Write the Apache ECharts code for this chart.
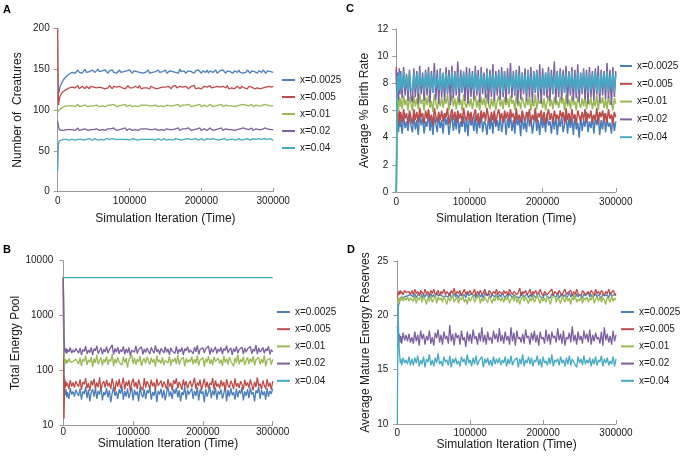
<!DOCTYPE html>
<html>
<head>
<meta charset="utf-8">
<script src="https://cdn.jsdelivr.net/npm/echarts@6/dist/echarts.min.js"></script>
<style>
html,body{margin:0;padding:0;background:#fff;}
#chart{width:688px;height:460px;}
</style>
</head>
<body>
<div id="chart"></div>
<script>
// ---------- shared data ----------
const seriesNames = ['x=0.0025','x=0.005','x=0.01','x=0.02','x=0.04'];
const xTicks = [0, 100000, 200000, 300000];
const iters = [0,1000,2000,3000,4000,5000,6000,8000,10000,12000,14000,16000,18000,20000,
22000,24000,26000,28000,30000,32000,34000,36000,38000,40000,42000,44000,46000,48000,50000,52000,54000,56000,58000,60000,
62000,64000,66000,68000,70000,72000,74000,76000,78000,80000,82000,84000,86000,88000,90000,92000,94000,96000,98000,100000,
102000,104000,106000,108000,110000,112000,114000,116000,118000,120000,122000,124000,126000,128000,130000,132000,134000,136000,138000,140000,
142000,144000,146000,148000,150000,152000,154000,156000,158000,160000,162000,164000,166000,168000,170000,172000,174000,176000,178000,180000,
182000,184000,186000,188000,190000,192000,194000,196000,198000,200000,202000,204000,206000,208000,210000,212000,214000,216000,218000,220000,
222000,224000,226000,228000,230000,232000,234000,236000,238000,240000,242000,244000,246000,248000,250000,252000,254000,256000,258000,260000,
262000,264000,266000,268000,270000,272000,274000,276000,278000,280000,282000,284000,286000,288000,290000,292000,294000,296000,298000,300000];

// ---------- Panel A: Number of Creatures ----------
const creatures_0025 = [115,119,123,127,130,132,134,137,139,141,143,144,145,146,
148,145,147,149,146,148,145,147,150,146,148,147,145,149,147,146,148,150,147,145,
148,146,149,147,145,148,147,149,146,148,145,147,149,146,148,147,145,148,146,149,
147,145,148,146,147,149,146,148,145,147,146,148,149,145,147,146,148,147,145,149,
146,148,147,146,149,145,147,148,146,147,149,146,148,145,150,147,146,148,145,147,
148,146,147,149,145,148,146,149,147,145,148,147,146,149,145,148,147,146,148,149,
145,147,148,146,149,147,145,148,146,147,149,145,148,147,146,149,146,148,145,147,
146,149,147,145,148,146,147,149,145,148,147,146,149,147,145,148,146,147,149,146];
const creatures_005 = [200,106,112,116,118,120,121,123,124,125,126,127,127,128,
129,127,128,130,126,128,129,127,126,129,128,126,129,127,128,130,127,126,128,129,
127,129,126,128,127,130,128,126,129,127,128,126,129,128,127,129,126,128,130,127,
128,127,126,129,128,127,130,126,128,127,129,127,128,126,129,128,127,129,126,128,
127,129,128,126,128,127,129,128,126,129,128,130,127,126,129,127,128,126,129,128,
126,128,129,127,130,126,128,127,129,126,128,129,127,128,126,130,127,129,128,126,
129,127,128,126,129,128,127,130,126,128,127,129,126,128,129,127,126,129,128,127,
128,126,129,127,128,130,126,128,127,129,126,128,127,129,128,126,129,127,128,129];
const creatures_01 = [97,99,100,101,102,102,103,104,104,105,105,105,105,105,
106,104,105,107,104,106,105,104,106,105,104,106,105,107,105,104,106,105,104,106,
105,107,104,105,106,104,106,105,107,105,104,106,105,104,106,105,107,104,105,106,
105,104,106,105,107,104,105,106,104,106,105,106,104,105,107,105,104,106,105,104,
106,105,107,104,105,106,104,105,106,105,104,106,105,107,104,105,106,104,106,105,
107,105,104,106,105,104,106,105,107,104,105,106,105,104,106,107,105,104,106,105,
104,106,105,107,104,105,106,104,105,106,105,107,104,106,105,104,106,105,107,105,
106,104,105,106,107,104,105,106,104,105,106,105,104,107,105,106,104,105,106,105];
const creatures_02 = [86,81,76,74,74,75,75,75,76,76,76,76,76,76,
77,75,76,78,75,77,76,75,77,76,75,77,76,78,76,75,77,76,75,77,
76,78,75,76,77,75,77,76,78,76,75,77,76,75,77,76,78,75,76,77,
76,75,77,76,78,75,76,77,75,77,76,77,75,76,78,76,75,77,76,75,
77,76,78,75,76,77,75,76,77,76,75,77,76,78,75,76,77,75,77,76,
78,76,75,77,76,75,77,76,78,75,76,77,76,75,77,78,76,75,77,76,
75,77,76,78,75,76,77,75,76,77,76,78,75,77,76,75,77,76,78,76,
77,75,76,77,78,75,76,77,75,76,77,76,75,78,76,77,75,76,77,76];
const creatures_04 = [25,58,62,63,64,63,64,64,63,64,64,63,64,64,
64,63,65,64,63,64,65,63,64,64,63,65,64,63,64,65,64,63,65,64,
64,63,64,65,63,64,64,65,63,64,65,64,63,64,65,64,63,64,65,63,
64,65,63,64,64,63,65,64,63,64,63,64,65,64,63,64,65,63,64,65,
64,63,64,65,64,63,64,64,65,63,64,65,63,64,65,63,64,64,63,65,
63,64,65,64,63,65,64,63,64,65,64,63,64,65,63,64,64,65,63,64,
65,63,64,64,63,65,64,63,65,64,63,64,65,63,64,65,64,63,64,64,
63,65,64,63,64,65,63,64,64,65,63,64,63,65,64,64,63,65,64,63];
const creaturesTicks = [0, 50, 100, 150, 200];

// ---------- Panel C: Average % Birth Rate ----------
const birth_0025 = [0,4.6,5.1,4.4,5.5,4.8,5.3,4.3,5.6,4.7,5.2,4.5,5.7,4.9,
4.4,5.7,4.6,5.3,4.2,5.8,4.9,5.5,4.3,5.2,4.8,5.9,4.5,5.4,4.2,5.6,5.0,4.4,5.7,4.7,
5.3,4.3,5.8,4.9,5.5,4.2,5.1,5.7,4.5,5.4,4.6,5.9,4.3,5.2,4.8,5.6,4.4,5.5,4.1,5.8,
4.9,5.3,4.5,5.7,4.3,5.4,4.7,5.9,4.4,5.2,5.0,4.2,5.6,4.6,5.5,4.3,5.8,4.8,5.3,4.5,
5.7,4.4,5.1,5.6,4.2,5.4,4.7,5.8,4.5,5.3,4.3,5.6,4.9,5.4,4.1,5.7,4.6,5.2,4.4,5.9,
4.8,5.5,4.3,5.1,5.7,4.5,5.3,4.2,5.6,4.7,5.4,4.4,5.8,4.9,5.2,4.3,5.5,4.6,5.7,4.2,
5.3,4.8,5.6,4.4,5.0,5.8,4.3,5.4,4.7,5.5,4.2,5.7,4.6,5.1,4.0,5.6,4.5,5.3,4.8,5.9,
4.4,5.2,4.7,5.6,4.3,5.5,4.9,5.7,4.2,5.3,4.6,5.8,4.4,5.4,4.8,5.1,4.3,5.6,4.5,5.2];
const birth_005 = [9.2,5.2,5.8,5.0,6.0,5.3,5.9,5.1,6.1,5.4,5.8,5.0,6.0,5.5,
5.0,6.1,5.3,5.9,5.1,6.2,5.5,5.8,5.0,6.0,5.4,6.1,5.2,5.7,4.9,6.2,5.6,5.1,5.9,5.3,
6.0,5.2,5.8,5.5,6.2,5.0,5.7,6.1,5.3,5.9,5.1,6.0,5.4,5.8,5.0,6.2,5.5,5.2,6.0,5.3,
5.9,5.1,5.7,6.1,5.2,5.8,5.0,6.0,5.4,5.9,5.2,6.2,5.5,5.1,5.9,5.3,6.0,5.0,5.7,6.1,
5.3,5.8,5.1,6.0,5.4,5.9,5.2,6.1,5.5,5.8,5.0,6.2,5.3,5.7,5.1,6.0,5.6,5.2,5.9,5.4,
6.1,5.0,5.7,5.3,6.2,5.1,5.8,5.5,6.0,5.2,5.9,5.0,5.6,6.1,5.3,5.8,5.1,6.0,5.4,5.7,
5.2,6.0,5.5,5.9,5.0,6.2,5.3,5.8,5.1,6.1,5.4,5.7,5.0,6.0,5.6,5.2,5.9,5.3,6.1,5.1,
5.8,5.4,6.0,5.1,5.7,5.3,6.2,5.0,5.9,5.5,6.0,5.2,5.8,5.1,6.1,5.4,5.7,5.0,5.9,5.5];
const birth_01 = [0,6.2,6.8,6.0,7.0,6.3,6.9,6.1,7.1,6.4,6.8,6.0,7.0,6.5,
6.0,7.1,6.3,6.9,6.1,7.2,6.5,6.8,6.0,7.0,6.4,7.1,6.2,6.7,5.9,7.2,6.6,6.1,6.9,6.3,
7.0,6.2,6.8,6.5,7.2,6.0,6.7,7.1,6.3,6.9,6.1,7.0,6.4,6.8,6.0,7.2,6.5,6.2,7.0,6.3,
6.9,6.1,6.7,7.1,6.2,6.8,6.0,7.0,6.4,6.9,6.2,7.2,6.5,6.1,6.9,6.3,7.0,6.0,6.7,7.1,
6.3,6.8,6.1,7.0,6.4,6.9,6.2,7.1,6.5,6.8,6.0,7.2,6.3,6.7,6.1,7.0,6.6,6.2,6.9,6.4,
7.1,6.0,6.7,6.3,7.2,6.1,6.8,6.5,7.0,6.2,6.9,6.0,6.6,7.1,6.3,6.8,6.1,7.0,6.4,6.7,
6.2,7.0,6.5,6.9,6.0,7.2,6.3,6.8,6.1,7.1,6.4,6.7,6.0,7.0,6.6,6.2,6.9,6.3,7.1,6.1,
6.8,6.4,7.0,6.1,6.7,6.3,7.2,6.0,6.9,6.5,7.0,6.2,6.8,6.1,7.1,6.4,6.7,6.0,6.9,6.5];
const birth_02 = [9.0,7.0,8.8,6.8,9.1,7.2,8.9,6.9,9.2,7.1,8.7,6.7,9.0,7.0,
6.6,9.1,7.0,8.9,6.5,9.3,7.2,8.8,6.7,9.0,7.1,9.2,6.6,8.9,7.3,9.5,6.8,9.0,6.5,9.1,
7.0,8.8,6.7,9.2,7.2,9.0,6.4,9.3,6.9,8.9,7.1,9.6,6.6,9.0,7.3,8.8,6.7,9.2,6.5,9.1,
7.0,8.9,6.8,9.3,7.1,9.0,6.6,9.2,7.2,8.8,6.9,9.1,6.5,9.0,7.0,9.4,6.7,8.9,7.1,9.0,
6.8,9.2,7.0,8.9,6.6,9.1,7.2,9.5,6.9,8.9,7.1,9.0,6.5,9.3,6.8,8.8,7.2,9.1,6.7,9.0,
7.0,9.2,6.6,8.9,7.3,9.0,6.8,9.4,6.5,9.1,7.1,8.8,6.9,9.2,6.7,9.0,7.2,9.6,6.6,8.9,
7.0,9.1,6.8,9.0,7.3,9.3,6.5,8.9,7.1,9.2,6.7,9.0,6.9,9.4,6.6,8.8,7.2,9.1,6.8,9.0,
6.5,9.2,7.0,8.9,6.7,9.1,7.2,9.3,6.6,9.0,7.1,8.9,6.8,9.5,6.9,9.0,6.4,9.2,7.0,8.9];
const birth_04 = [0,7.5,8.6,7.4,8.8,7.6,8.7,7.5,8.9,7.7,8.5,7.4,8.8,7.6,
7.4,8.8,7.6,8.7,7.3,8.9,7.8,8.5,7.4,8.8,7.6,8.9,7.5,8.6,7.3,8.8,7.7,8.4,7.5,8.9,
7.4,8.7,7.6,8.8,7.3,8.6,7.8,8.9,7.5,8.7,7.4,8.8,7.6,8.5,7.3,8.9,7.7,8.6,7.5,8.8,
7.6,8.7,7.4,8.9,7.5,8.6,7.3,8.8,7.7,8.5,7.4,8.9,7.6,8.7,7.5,8.8,7.3,8.6,7.6,8.8,
7.5,8.7,7.3,8.9,7.6,8.5,7.4,8.8,7.7,8.6,7.3,8.9,7.5,8.7,7.6,8.8,7.4,8.6,7.3,8.9,
7.7,8.5,7.4,8.8,7.5,8.9,7.3,8.7,7.6,8.6,7.4,8.8,7.5,8.9,7.7,8.6,7.3,8.7,7.6,8.8,
7.4,8.9,7.5,8.6,7.3,8.8,7.7,8.7,7.4,8.9,7.6,8.5,7.3,8.8,7.5,8.7,7.4,8.9,7.6,8.6,
7.3,8.8,7.5,8.7,7.6,8.9,7.4,8.6,7.3,8.8,7.7,8.7,7.5,8.9,7.4,8.6,7.6,8.8,7.3,8.7];
const birthTicks = [0, 2, 4, 6, 8, 10, 12];

// ---------- Panel B: Total Energy Pool (log) ----------
const pool_0025 = [5000,80,42,35,45,32,40,30,47,36,41,33,44,38,
34,46,29,41,37,50,31,44,27,39,45,33,48,30,42,36,51,28,40,35,
47,32,43,26,38,49,34,41,30,45,37,52,29,42,33,46,31,39,48,28,
44,35,41,27,50,36,32,45,30,43,38,49,29,40,34,47,26,42,36,46,
31,44,28,39,50,33,41,30,45,37,48,32,43,27,40,35,51,29,44,36,
39,47,30,42,34,49,28,45,37,41,26,46,33,40,50,31,43,35,48,29,
42,36,45,30,38,52,27,44,33,47,35,40,29,46,32,43,37,49,28,41,
34,45,31,48,36,40,27,43,38,50,30,44,35,41,29,47,33,42,37,46];
const pool_005 = [5000,13,70,48,62,52,58,45,66,50,60,48,63,55,
50,68,44,61,55,72,47,58,42,65,53,70,46,60,49,74,43,57,63,48,
67,51,59,45,71,54,41,64,50,69,47,56,73,44,62,52,66,42,58,70,
49,61,45,68,53,57,43,72,48,63,55,46,67,51,60,44,70,52,58,65,
48,62,54,45,69,50,59,43,66,56,71,47,61,53,44,68,51,63,46,57,
64,49,58,73,45,60,52,67,43,55,70,48,62,46,59,54,72,44,65,50,
57,46,66,51,61,42,69,53,48,64,56,45,71,50,58,47,63,55,44,67,
52,60,47,68,54,43,62,49,74,51,57,45,65,53,46,69,50,59,44,63];
const pool_01 = [5000,200,140,160,130,155,135,165,140,150,145,135,160,148,
130,170,120,160,145,185,125,155,140,175,115,165,135,190,128,150,170,122,160,138,
180,126,158,145,195,118,162,134,172,140,152,124,178,136,166,112,156,148,188,130,
168,127,159,142,182,120,150,164,133,176,145,128,170,138,160,116,185,140,155,132,
172,125,150,162,136,180,121,158,143,168,130,190,126,152,146,174,118,164,138,156,
142,178,128,160,134,186,122,154,148,170,116,162,140,182,130,158,124,176,144,150,
166,132,156,120,184,138,162,127,174,146,152,118,168,136,192,128,158,142,176,124,
150,170,130,164,140,180,122,156,146,172,128,160,136,188,118,154,144,166,126,158];
const pool_02 = [5000,400,230,210,250,200,240,215,260,205,235,215,250,225,
205,255,190,240,220,275,198,235,210,262,188,248,225,280,200,230,258,195,242,215,
270,205,236,222,290,192,250,212,265,200,238,218,272,196,245,208,260,185,232,252,
214,278,202,240,226,268,194,244,210,256,220,198,262,230,205,284,216,240,196,250,
228,206,266,212,246,190,258,222,236,204,274,198,242,218,260,188,248,226,270,210,
236,252,200,264,216,286,194,240,224,258,206,246,230,276,192,254,212,238,268,202,
244,220,262,196,250,228,280,208,234,256,190,248,218,272,204,240,226,264,198,254,
212,246,232,270,200,242,222,288,196,256,214,236,260,204,248,226,274,194,238,216];
const poolIters_04 = [0, 300000];
const pool_04 = [4900, 4900];
const poolTicks = [10, 100, 1000, 10000];

// ---------- Panel D: Average Mature Energy Reserves ----------
const reserve_0025 = [20.0,20.6,21.0,21.2,21.4,21.5,21.6,21.7,21.7,21.8,21.8,21.8,21.9,21.8,
21.7,22.0,21.6,21.9,21.8,22.1,21.6,21.9,21.7,22.0,21.8,21.6,22.0,21.7,21.9,21.6,22.1,21.8,21.7,21.9,
22.0,21.6,21.8,21.9,21.7,22.1,21.6,21.8,22.0,21.7,21.9,21.6,22.0,21.8,21.7,21.9,21.6,22.1,21.8,21.7,
22.0,21.7,21.9,21.6,21.8,22.0,21.7,21.9,21.6,22.1,21.8,21.7,22.0,21.6,21.9,21.8,21.7,22.0,21.6,21.9,
21.7,22.1,21.8,21.6,21.9,21.7,22.0,21.8,21.6,21.9,22.0,21.7,21.8,21.6,22.1,21.9,21.7,21.8,22.0,21.6,
21.9,21.7,22.0,21.8,21.6,21.9,22.1,21.7,21.8,21.6,22.0,21.9,21.7,21.8,21.6,22.0,21.8,21.9,21.7,22.1,
21.6,21.8,22.0,21.7,21.9,21.6,21.8,22.1,21.7,21.9,21.8,21.6,22.0,21.7,21.9,21.8,21.6,22.0,21.8,21.7,
22.1,21.7,21.9,21.6,21.8,22.0,21.7,21.9,21.8,21.6,22.0,21.8,21.7,21.9,21.6,22.1,21.8,21.7,21.9,22.0];
const reserve_005 = [21.6,22.0,22.2,21.9,22.3,22.0,22.2,21.9,22.3,22.1,22.0,22.2,21.9,22.3,
21.9,22.4,22.0,22.2,21.8,22.3,22.1,21.9,22.4,22.0,22.2,21.8,22.3,22.0,22.4,21.9,22.1,22.3,21.8,22.2,
22.0,22.4,21.9,22.2,22.1,21.8,22.3,22.0,22.5,21.9,22.2,22.0,22.3,21.8,22.1,22.4,21.9,22.2,22.0,22.3,
21.9,22.1,22.4,21.8,22.2,22.0,22.3,21.9,22.1,22.4,22.0,21.8,22.3,22.1,21.9,22.2,22.0,22.4,21.9,22.2,
22.1,21.9,22.3,22.0,22.2,21.8,22.4,22.1,21.9,22.2,22.3,21.9,22.1,22.5,21.8,22.2,22.0,22.3,21.9,22.1,
22.4,21.8,22.2,22.0,22.3,21.9,22.1,22.4,22.0,21.8,22.2,22.3,21.9,22.1,22.0,22.4,21.8,22.2,22.1,21.9,
22.3,22.0,21.8,22.2,22.4,21.9,22.1,22.0,22.3,21.8,22.2,21.9,22.4,22.0,22.1,21.8,22.3,22.2,21.9,22.0,
22.2,21.9,22.3,22.1,21.8,22.4,22.0,22.2,21.9,22.3,22.1,21.8,22.2,22.0,22.4,21.9,22.1,22.3,22.0,21.8];
const reserve_01 = [21.0,21.3,21.6,21.2,21.7,21.4,21.8,21.3,21.6,21.4,21.7,21.3,21.6,21.5,
21.3,21.8,21.1,21.6,21.4,21.9,21.2,21.7,21.5,21.0,21.6,21.3,21.8,21.2,21.5,21.9,21.1,21.7,21.4,21.6,
21.2,21.8,21.4,21.0,21.7,21.3,21.6,21.9,21.2,21.5,21.7,21.1,21.6,21.4,21.8,21.2,21.5,21.0,21.7,21.3,
21.6,21.9,21.2,21.5,21.4,21.8,21.1,21.6,21.3,21.7,21.4,21.2,21.8,21.5,21.1,21.6,21.3,21.9,21.4,21.6,
21.3,21.7,21.2,21.6,21.4,21.8,21.1,21.5,21.7,21.3,21.9,21.2,21.6,21.0,21.5,21.8,21.3,21.7,21.4,21.1,
21.6,21.3,21.8,21.2,21.5,21.9,21.4,21.1,21.7,21.3,21.6,21.2,21.8,21.4,21.0,21.6,21.5,21.8,21.2,21.7,
21.4,21.1,21.7,21.5,21.2,21.8,21.3,21.6,21.0,21.7,21.4,21.9,21.2,21.5,21.3,21.8,21.1,21.6,21.4,21.7,
21.2,21.6,21.4,21.9,21.1,21.5,21.7,21.3,21.8,21.2,21.6,21.4,21.0,21.7,21.5,21.2,21.8,21.3,21.6,21.4];
const reserve_02 = [19.0,18.2,17.6,18.3,17.5,18.1,17.4,18.4,17.7,18.2,17.6,18.3,17.5,18.0,
17.4,18.5,17.6,18.2,17.2,18.6,17.8,18.3,17.3,18.1,17.7,18.6,17.4,18.0,17.2,18.4,17.9,18.7,17.5,18.2,
17.3,18.5,17.8,18.1,17.4,19.1,17.6,18.3,17.2,18.4,17.9,18.2,17.3,18.6,17.7,18.0,17.1,18.5,17.6,18.3,
17.4,18.7,17.8,18.1,17.3,18.4,17.6,18.9,17.5,18.2,17.3,18.5,17.7,18.0,17.4,18.6,17.8,18.3,17.5,18.8,
17.6,18.2,17.4,18.5,17.7,18.1,17.3,18.9,17.6,18.4,17.2,18.6,17.8,18.0,17.5,18.3,17.4,18.7,17.9,18.1,
17.3,18.4,17.7,18.6,17.5,18.2,17.2,18.5,17.8,18.0,17.4,18.7,17.6,18.3,17.3,18.5,17.9,18.1,17.5,18.8,
17.7,18.3,17.4,18.6,17.2,18.0,17.8,18.4,17.5,19.0,17.6,18.2,17.3,18.5,17.7,18.1,17.4,18.6,17.8,18.3,
17.5,18.7,17.3,18.2,17.6,18.4,17.8,18.0,17.4,18.5,17.2,18.9,17.7,18.3,17.5,18.1,17.3,18.6,17.6,18.2];
const reserve_04 = [10,21,18,16.5,15.6,16.0,15.4,16.1,15.6,15.9,15.5,16.2,15.4,16.0,
15.4,16.1,15.6,16.3,15.3,15.9,15.5,16.2,15.2,16.0,15.7,16.4,15.4,15.9,15.3,16.1,15.6,16.5,15.5,15.8,
15.3,16.2,15.7,15.9,15.4,16.3,15.2,16.0,15.6,16.1,15.5,15.8,15.3,16.2,15.7,16.0,15.4,16.4,15.6,15.9,
15.3,16.1,15.5,16.3,15.4,15.8,15.7,16.2,15.2,16.0,15.6,16.1,15.4,15.9,15.3,16.2,15.5,16.0,15.6,16.1,
15.4,15.9,15.6,16.2,15.3,16.0,15.5,16.3,15.4,15.8,15.7,16.1,15.2,16.0,15.5,16.4,15.3,15.9,15.6,16.2,
15.5,16.1,15.3,15.9,15.7,16.3,15.4,16.0,15.2,16.2,15.6,15.8,15.4,16.1,15.5,16.4,15.3,15.9,15.7,16.0,
15.4,16.2,15.6,15.9,15.3,16.1,15.5,16.3,15.4,16.0,15.7,15.8,15.2,16.2,15.6,16.0,15.4,16.3,15.5,15.9,
15.6,16.1,15.3,16.0,15.5,16.2,15.4,15.9,15.7,16.3,15.3,16.0,15.6,16.1,15.4,15.8,15.5,16.2,15.3,16.0];
const reserveTicks = [10, 15, 20, 25];

// ---------- build chart ----------
const FONT = "'Liberation Sans', Arial, sans-serif";
const colors = ['#4A7EBB','#BE4B48','#98B954','#7D60A0','#46AAC5'];
const AXIS_COLOR = '#9A9A9A';
const TEXT_COLOR = '#1a1a1a';

function pairs(xs, ys) { return xs.map((x, i) => [x, ys[i]]); }
const plain = v => String(v);

const grids = [
  {left: 57.7, top: 28.3, width: 215.5, height: 163.4},  // A
  {left: 396.3, top: 29, width: 219.5, height: 163},     // C
  {left: 63.3, top: 260.7, width: 209.4, height: 164.3}, // B
  {left: 397.3, top: 261, width: 218.7, height: 163}     // D
];
const lineWidths = [1.3, 1.5, 1.3, 1.3];

const xNameGaps = [21, 21, 11, 12];
const xLabelMargins = [5, 5, 2, 4];
const xAxes = grids.map((g, i) => ({
  type: 'value', gridIndex: i, min: xTicks[0], max: xTicks[xTicks.length - 1],
  interval: xTicks[1] - xTicks[0],
  name: 'Simulation Iteration (Time)', nameLocation: 'middle', nameGap: xNameGaps[i],
  nameTextStyle: {fontFamily: FONT, fontSize: 12, color: TEXT_COLOR},
  axisLine: {show: true, lineStyle: {color: AXIS_COLOR, width: 1}},
  axisTick: {show: true, inside: true, length: 4, lineStyle: {color: AXIS_COLOR}},
  axisLabel: {fontFamily: FONT, fontSize: 10, color: TEXT_COLOR, margin: xLabelMargins[i], formatter: plain},
  splitLine: {show: false}
}));

const yDefs = [
  {name: 'Number of  Creatures', ticks: creaturesTicks, gap: 34, margin: 8},
  {name: 'Average % Birth Rate', ticks: birthTicks, gap: 26, margin: 8},
  {name: 'Total Energy Pool', ticks: poolTicks, gap: 39, margin: 10, log: true},
  {name: 'Average Mature Energy Reserves', ticks: reserveTicks, gap: 26, margin: 9}
];
const yAxes = yDefs.map((d, i) => {
  const ax = {
    gridIndex: i, min: d.ticks[0], max: d.ticks[d.ticks.length - 1],
    name: d.name, nameLocation: 'middle', nameGap: d.gap, nameRotate: 90,
    nameTextStyle: {fontFamily: FONT, fontSize: 12, color: TEXT_COLOR},
    axisLine: {show: true, lineStyle: {color: AXIS_COLOR, width: 1}},
    axisTick: {show: true, inside: false, length: 4, lineStyle: {color: AXIS_COLOR}},
    axisLabel: {fontFamily: FONT, fontSize: 10, color: TEXT_COLOR, margin: d.margin, formatter: plain},
    splitLine: {show: false}
  };
  if (d.log) { ax.type = 'log'; ax.logBase = 10; }
  else { ax.type = 'value'; ax.interval = d.ticks[1] - d.ticks[0]; }
  return ax;
});

const panelData = [
  [[iters, creatures_0025], [iters, creatures_005], [iters, creatures_01], [iters, creatures_02], [iters, creatures_04]],
  [[iters, birth_0025], [iters, birth_005], [iters, birth_01], [iters, birth_02], [iters, birth_04]],
  [[iters, pool_0025], [iters, pool_005], [iters, pool_01], [iters, pool_02], [poolIters_04, pool_04]],
  [[iters, reserve_0025], [iters, reserve_005], [iters, reserve_01], [iters, reserve_02], [iters, reserve_04]]
];

const series = [];
panelData.forEach((panel, gi) => {
  panel.forEach((s, si) => {
    series.push({
      type: 'line', name: seriesNames[si], xAxisIndex: gi, yAxisIndex: gi,
      data: pairs(s[0], s[1]), showSymbol: false, symbol: 'none',
      lineStyle: {color: colors[si], width: lineWidths[gi]}, itemStyle: {color: colors[si]},
      animation: false, silent: true
    });
  });
});

function legendAt(left, top, gap, iw) {
  return {
    data: seriesNames, orient: 'vertical', left: left, top: top, padding: 0,
    itemWidth: iw, itemHeight: 2, itemGap: gap, icon: 'rect', selectedMode: false,
    textStyle: {fontFamily: FONT, fontSize: 10, color: TEXT_COLOR, lineHeight: 12}
  };
}

const panelLetters = [
  {t: 'A', x: 3, y: 4}, {t: 'C', x: 346, y: 3}, {t: 'B', x: 3, y: 244}, {t: 'D', x: 347, y: 244}
];

const option = {
  backgroundColor: '#ffffff',
  animation: false,
  color: colors,
  grid: grids,
  xAxis: xAxes,
  yAxis: yAxes,
  legend: [
    legendAt(282, 74, 5, 13),
    legendAt(620, 60, 5.8, 12),
    legendAt(277, 306, 5.2, 13),
    legendAt(621, 306, 5.2, 13)
  ],
  graphic: panelLetters.map(p => ({
    type: 'text', left: p.x, top: p.y,
    style: {text: p.t, font: "bold 11px 'Liberation Sans', Arial, sans-serif", fill: '#000'}
  })),
  series: series
};

const chart = echarts.init(document.getElementById('chart'), null, {renderer: 'canvas'});
chart.setOption(option);
</script>
</body>
</html>
